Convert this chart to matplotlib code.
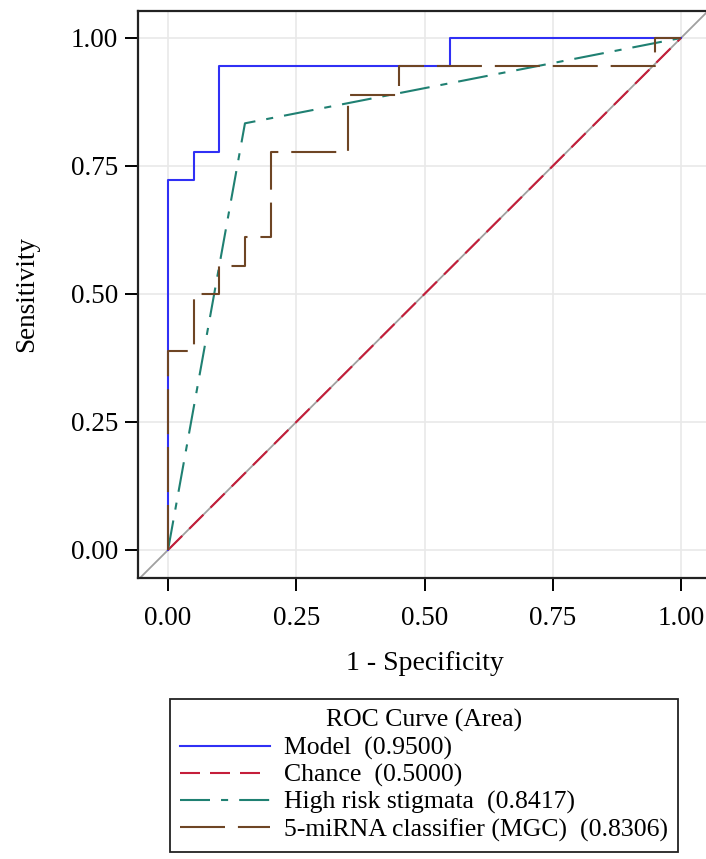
"""
ROC curve comparison chart
"""
import matplotlib
matplotlib.use('Agg')
import matplotlib.pyplot as plt
from matplotlib.lines import Line2D

plt.rcParams['font.family'] = ['Liberation Serif', 'DejaVu Serif']

# ROC points (1 - specificity, sensitivity)
model_fpr = [0.0, 0.0, 0.05, 0.05, 0.10, 0.10, 0.55, 0.55, 1.0]
model_tpr = [0.0, 13/18, 13/18, 14/18, 14/18, 17/18, 17/18, 1.0, 1.0]

chance_fpr = [0.0, 1.0]
chance_tpr = [0.0, 1.0]

stigmata_fpr = [0.0, 0.15, 1.0]
stigmata_tpr = [0.0, 15/18, 1.0]

mgc_fpr = [0.0, 0.0, 0.05, 0.05, 0.10, 0.10, 0.15, 0.15, 0.20, 0.20,
           0.35, 0.35, 0.45, 0.45, 0.95, 0.95, 1.0]
mgc_tpr = [0.0, 7/18, 7/18, 9/18, 9/18, 10/18, 10/18, 11/18, 11/18, 14/18,
           14/18, 16/18, 16/18, 17/18, 17/18, 1.0, 1.0]

labels = ['Model  (0.9500)', 'Chance  (0.5000)',
          'High risk stigmata  (0.8417)', '5-miRNA classifier (MGC)  (0.8306)']
ticks = [0.0, 0.25, 0.50, 0.75, 1.00]
tick_labels = ['0.00', '0.25', '0.50', '0.75', '1.00']

# 色設定
c_model = '#3030F5'
c_chance = '#C41E3A'
c_stig = '#1F8072'
c_mgc = '#6E4524'
lw = 1.5

W, H = 706, 859
fig = plt.figure(figsize=(W / 100, H / 100), dpi=100)
ax = fig.add_axes([138 / W, 281 / H, 573 / W, 567 / H])

ax.set_xlim(-0.0585, 1.0585)
ax.set_ylim(-0.0547, 1.0527)

# グリッド
ax.set_axisbelow(True)
ax.grid(True, color='#E9E9E9', linewidth=1.2)

# 対角線
ax.plot([-1, 2], [-1, 2], color='#A0A0A0', linewidth=1.3, zorder=1.5)

ax.plot(model_fpr, model_tpr, color=c_model, linewidth=lw, zorder=2)
ax.plot(chance_fpr, chance_tpr, color=c_chance, linewidth=lw,
        dashes=(9.6, 4.8), zorder=2.2)
ax.plot(stigmata_fpr, stigmata_tpr, color=c_stig, linewidth=lw,
        dashes=(14.4, 5.3, 3.4, 5.3), zorder=3)
ax.plot(mgc_fpr, mgc_tpr, color=c_mgc, linewidth=lw,
        dashes=(21.6, 6.2), zorder=4)

ax.set_xticks(ticks)
ax.set_xticklabels(tick_labels)
ax.set_yticks(ticks)
ax.set_yticklabels(tick_labels)
ax.tick_params(axis='both', labelsize=19.5, length=9.4, width=1.4,
               direction='out', color='black')
ax.tick_params(axis='x', pad=11)
ax.tick_params(axis='y', pad=5)

for side in ['left', 'bottom', 'top', 'right']:
    ax.spines[side].set_linewidth(1.6)
    ax.spines[side].set_color('#222222')

ax.set_xlabel('1 - Specificity', fontsize=20)
ax.set_ylabel('Sensitivity', fontsize=19.5)
ax.xaxis.set_label_coords(0.5, -0.128)
ax.yaxis.set_label_coords(-0.173, 0.5)

# 凡例
handles = [
    Line2D([], [], color=c_model, linewidth=lw),
    Line2D([], [], color=c_chance, linewidth=lw, dashes=(9.6, 4.8)),
    Line2D([], [], color=c_stig, linewidth=lw, dashes=(14.4, 5.3, 3.4, 5.3)),
    Line2D([], [], color=c_mgc, linewidth=lw, dashes=(21.6, 6.2)),
]
leg = fig.legend(handles, labels, title='ROC Curve (Area)',
                 loc='upper left',
                 bbox_to_anchor=(170 / W, 1 - 699 / H, 508 / W, 0.0),
                 bbox_transform=fig.transFigure, mode='expand',
                 fontsize=18.5, title_fontsize=18.5, frameon=True,
                 fancybox=False, framealpha=1, edgecolor='#222222',
                 borderaxespad=0, borderpad=0.4, labelspacing=0.15,
                 handlelength=3.5, handletextpad=0.55)
leg.get_frame().set_linewidth(1.3)
leg._legend_box.sep = 3

fig.savefig('out.png', dpi=100, facecolor='white')
plt.close(fig)
